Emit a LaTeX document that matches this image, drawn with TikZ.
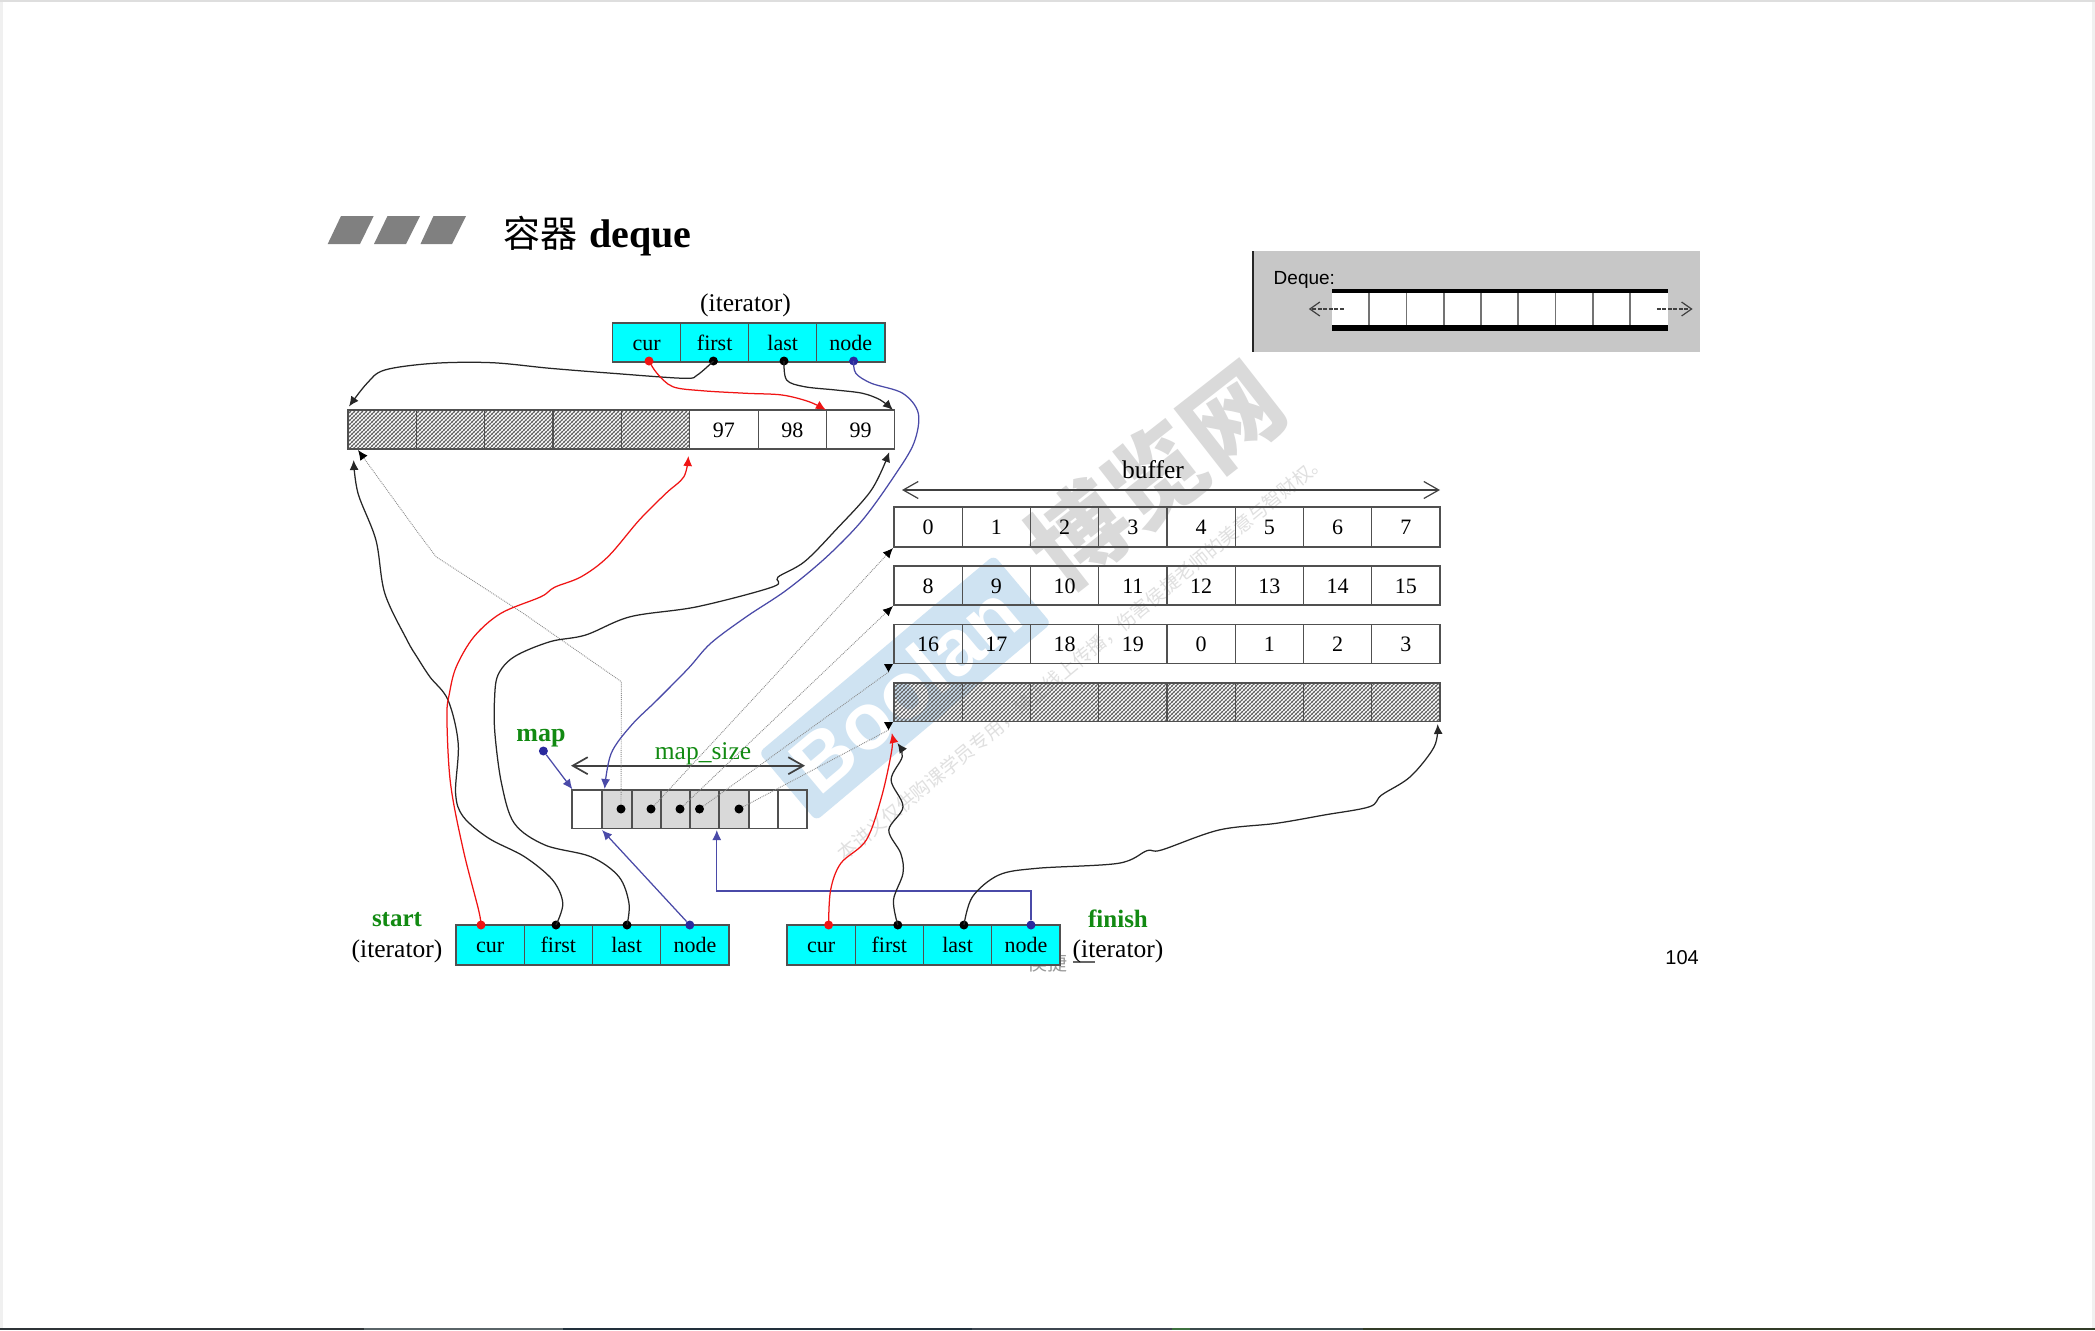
\documentclass[tikz,border=0pt]{standalone}
\usepackage{fontspec}
\setmainfont{Liberation Serif}
\newfontfamily\cjk{Noto Sans CJK SC}
\newfontfamily\hsans{Liberation Sans}
\usetikzlibrary{arrows.meta,patterns}
\definecolor{cyanbox}{HTML}{00FFFF}
\definecolor{edge}{HTML}{505050}
\definecolor{wmblue}{HTML}{CFE3F2}
\definecolor{wmgray}{HTML}{DADADA}
\definecolor{lblue}{HTML}{4A4AA8}
\definecolor{dblue}{HTML}{2A2A9E}
\definecolor{lred}{HTML}{F01414}
\definecolor{lgreen}{HTML}{128A12}
\definecolor{hatchc}{HTML}{606060}
\definecolor{ss1}{HTML}{2F3438}
\definecolor{ss2}{HTML}{5A6468}
\definecolor{ss3}{HTML}{22303C}
\definecolor{ss4}{HTML}{3E4650}
\definecolor{ss5}{HTML}{3D7040}
\definecolor{ss6}{HTML}{3B4A4C}
\definecolor{ss7}{HTML}{333C28}
\pgfdeclarepatternformonly{weave}{\pgfqpoint{-1pt}{-1pt}}{\pgfqpoint{5pt}{5pt}}{\pgfqpoint{4pt}{4pt}}{%
  \pgfsetlinewidth{1pt}%
  \pgfpathmoveto{\pgfqpoint{-1pt}{-1pt}}\pgfpathlineto{\pgfqpoint{5pt}{5pt}}\pgfusepath{stroke}%
  \pgfsetlinewidth{0.3pt}%
  \pgfpathmoveto{\pgfqpoint{0pt}{4pt}}\pgfpathlineto{\pgfqpoint{4pt}{0pt}}\pgfusepath{stroke}%
}
\newcommand{\fs}[1]{\fontsize{#1}{#1}\selectfont}
\tikzset{
  cellbox/.style n args={2}{draw=edge,line width=1.2pt,minimum width=#1,minimum height=#2,anchor=north west,inner sep=0pt,outer sep=0pt,text height=15pt,text depth=0pt,font=\fs{22}},
  hatched/.style={pattern=weave,pattern color=hatchc},
  iterc/.style={fill=cyanbox},
  lab/.style={inner sep=0pt,font=\fs{25.5}},
  glab/.style={inner sep=0pt,text=lgreen,font=\bfseries\fs{25}},
  ptr/.style={circle,inner sep=0pt,minimum size=9pt,fill=#1},
  curve/.style={line width=1.25pt,-{Latex[length=10pt,width=9pt]}},
  bcurve/.style={curve,black!85},
  rcurve/.style={curve,lred},
  lcurve/.style={curve,lblue},
  ghost/.style={line width=.9pt,gray!90,densely dotted,-{Latex[length=10pt,width=9pt,color=black]}},
  ghostn/.style={line width=.9pt,gray!90,densely dotted},
  barb/.style={line width=1.2pt,draw=black!75,{Straight Barb[length=15pt,width=17pt]}-{Straight Barb[length=15pt,width=17pt]}},
  wobble/.style={smooth,tension=.55}
}
\begin{document}
\begin{tikzpicture}[x=1pt,y=-1pt]
\useasboundingbox (0,0) rectangle (2095,1330);
% page
\fill[white] (0,0) rectangle (2095,1330);
\fill[black!13] (0,0) rectangle (2095,2);
\fill[black!6] (0,2) rectangle (3,1328);
\fill[black!6] (2092,2) rectangle (2095,1328);
\foreach \a/\b/\c in {0/364/ss1,364/563/ss2,563/972/ss3,972/1172/ss4,1172/1190/ss5,1190/1363/ss6,1363/2095/ss7}
  \fill[\c] (\a,1328) rectangle (\b,1330);
% watermark
\node[rotate=40,fill=wmblue,rounded corners=6pt,minimum width=307pt,minimum height=89pt,inner sep=0pt,text=white,font=\hsans\bfseries\fs{80}] (wmbox) at (905,688) {Boolan};
\node[rotate=38,inner sep=0pt,text=wmgray,font=\cjk\bfseries\fs{97}] (wmname) at (1155,475) {博览网};
\node[rotate=39.5,inner sep=0pt,text=wmgray!85,font=\cjk\fs{19}] (wmnote) at (1082,657) {本讲义仅供购课学员专用，禁止线上传播，伤害侯捷老师的美意与智财权。};
% title
\fill[black!50] (327.7,244) -- (341,216) -- (373.7,216) -- (360,244) -- cycle;
\fill[black!50] (374,244) -- (387.5,216) -- (420,216) -- (406,244) -- cycle;
\fill[black!50] (420.5,244) -- (433.5,216) -- (466,216) -- (452,244) -- cycle;
\node[anchor=west,inner sep=0pt] (title) at (503,236) {{\cjk\fs{37}容器}\hspace{12pt}{\bfseries\fs{40}deque}};
% inset
\fill[black!22] (1253,251) rectangle (1700,352);
\draw[line width=1.2pt,black!85] (1253,251) -- (1253,352);
\fill[white] (1332,291) rectangle (1668,327);
\foreach \x in {1369,1406.4,1444,1481,1518,1555.4,1593,1630}
  \draw[line width=1.5pt,black!55] (\x,291) -- (\x,327);
\fill[black] (1332,288.7) rectangle (1668,293.3);
\fill[black] (1332,325.3) rectangle (1668,331);
\node[anchor=west,inner sep=0pt,font=\hsans\fs{19}] (dqtext) at (1273.5,279.5) {Deque:};
\coordinate (dqLa) at (1343.6,309); \coordinate (dqLb) at (1308.8,309);
\coordinate (dqRa) at (1656.8,309); \coordinate (dqRb) at (1692.6,309);
\draw[line width=1.2pt,black!75,dash pattern=on 4pt off 1.5pt,-{Straight Barb[length=10pt,width=14pt]}] (dqLa) -- (dqLb);
\draw[line width=1.2pt,black!75,dash pattern=on 4pt off 1.5pt,-{Straight Barb[length=10pt,width=14pt]}] (dqRa) -- (dqRb);
\node[anchor=east,inner sep=0pt,font=\hsans\fs{20}] (pageno) at (1699,958) {104};
% faded author mark
\node[inner sep=0pt,text=black!40,font=\cjk\fs{20}] (author) at (1047,963) {侯捷};
\draw[line width=1.2pt,black!60] (1073,962) -- (1095,962);
% top iterator
\foreach \i/\t in {0/cur,1/first,2/last,3/node}
  \node[cellbox={68.1pt}{39pt},iterc] (t\t) at (612.5+68.1*\i,323) {\t};
\node[lab] (ittop) at (745.5,305) {(iterator)};
% buffer with 97 98 99
\foreach \i in {0,...,4}
  \node[cellbox={68.35pt}{39pt},hatched] (b\i) at (348+68.35*\i,410) {};
\foreach \i/\t in {5/97,6/98,7/99}
  \node[cellbox={68.35pt}{39pt}] (b\i) at (348+68.35*\i,410) {\t};
% buffer rows
\foreach \i/\t in {0/0,1/1,2/2,3/3,4/4,5/5,6/6,7/7}
  \node[cellbox={68.25pt}{40pt}] (ra\i) at (894+68.25*\i,507) {\t};
\foreach \i/\t in {0/8,1/9,2/10,3/11,4/12,5/13,6/14,7/15}
  \node[cellbox={68.25pt}{39pt}] (rb\i) at (894+68.25*\i,566) {\t};
\foreach \i/\t in {0/16,1/17,2/18,3/19,4/0,5/1,6/2,7/3}
  \node[cellbox={68.25pt}{39pt}] (rc\i) at (894+68.25*\i,624.5) {\t};
\foreach \i in {0,...,7}
  \node[cellbox={68.25pt}{38.5pt},hatched] (rd\i) at (894+68.25*\i,683) {};
\node[lab] (buflab) at (1153,470) {buffer};
\coordinate (bufL) at (902,490); \coordinate (bufR) at (1440,490);
\draw[barb] (bufL) -- (bufR);
% map
\node[cellbox={30pt}{38.7pt}] (m0) at (572,790) {};
\foreach \i/\a/\w in {1/602/30,2/632/29,3/661/29,4/690/29,5/719/30}
  \node[cellbox={\w pt}{38.7pt},fill=black!15] (m\i) at (\a,790) {};
\node[cellbox={29pt}{38.7pt}] (m6) at (749,790) {};
\node[cellbox={29pt}{38.7pt}] (m7) at (778,790) {};
\node[glab,font=\bfseries\fs{26}] (maplab) at (541,738) {map};
\node[lab,text=lgreen] (msize) at (703,754) {map\_size};
\coordinate (msL) at (571,765.7); \coordinate (msR) at (805,765.7);
\draw[barb,line width=1.7pt] (msL) -- (msR);
% start iterator
\foreach \i/\t in {0/cur,1/first,2/last,3/node}
  \node[cellbox={68.25pt}{40pt},iterc] (s\t) at (456+68.25*\i,925) {\t};
\node[glab] (startlab) at (397,920) {start};
\node[lab] (itstart) at (397,951) {(iterator)};
% finish iterator
\foreach \i/\t in {0/cur,1/first,2/last,3/node}
  \node[cellbox={68.25pt}{40pt},iterc] (f\t) at (787+68.25*\i,925) {\t};
\node[glab] (finlab) at (1118,919) {finish};
\node[lab] (itfin) at (1118,951) {(iterator)};
% pointer dots
\node[ptr=lred] (dtc) at (649,361) {};
\node[ptr=black] (dtf) at (713.4,361) {};
\node[ptr=black] (dtl) at (784,361) {};
\node[ptr=dblue] (dtn) at (853.6,361) {};
\node[ptr=dblue] (dmap) at (543.4,751) {};
\node[ptr=lred] (dsc) at (481,925) {};
\node[ptr=black] (dsf) at (556,925) {};
\node[ptr=black] (dsl) at (627,925) {};
\node[ptr=dblue] (dsn) at (689.8,925) {};
\node[ptr=lred] (dfc) at (828.6,925) {};
\node[ptr=black] (dff) at (897.8,925) {};
\node[ptr=black] (dfl) at (963.9,925) {};
\node[ptr=dblue] (dfn) at (1031,925) {};
\node[ptr=black] (dm1) at (621,809) {};
\node[ptr=black] (dm2) at (651,809) {};
\node[ptr=black] (dm3) at (680,809) {};
\node[ptr=black] (dm4) at (699.5,809) {};
\node[ptr=black] (dm5) at (739,809) {};
% arrow ends
\coordinate (eA) at (349,406.5);
\coordinate (eB) at (825.9,410);
\coordinate (eC) at (892.9,410);
\coordinate (eD) at (604.6,789);
\coordinate (eE) at (353.6,460);
\coordinate (eF) at (688.4,456);
\coordinate (eG) at (889.3,452);
\coordinate (eH) at (602,830);
\coordinate (eI) at (572.4,789.3);
\coordinate (eJ) at (716.8,830);
\coordinate (eK) at (891.8,733);
\coordinate (eL) at (897.4,743);
\coordinate (eM) at (1437.6,724);
\coordinate (eN) at (358,450);
\coordinate (eRa) at (893,548);
\coordinate (eRb) at (893,606);
\coordinate (eRc) at (888.5,672);
\coordinate (eRd) at (888.5,730);
% ghost lines
\draw[ghost] (dm1) -- (621.4,681.7) -- (523.2,613.3) -- (436,556.7) -- (416,530) -- (eN);
\draw[ghost] (dm2) -- (eRa);
\draw[ghost] (dm3) -- (eRb);
\draw[ghostn] (dm4) -- (eRc);
\draw[ghostn] (dm5) -- (eRd);
\fill[black] (884,664) -- (893,664) -- (888.5,672) -- cycle;
\fill[black] (884,722) -- (893,722) -- (888.5,730) -- cycle;
% top connectors
\draw[bcurve] plot[wobble] coordinates {(dtf) (697.3,375) (683.9,378.3) (612.5,373.3) (550,368.3) (492,362.7) (433.9,363.3) (384.8,370) (367,383.3) (eA)};
\draw[rcurve] plot[wobble] coordinates {(dtc) (657,373.3) (672.8,386.7) (701.8,390.7) (746.4,393.3) (782,395) (809,401.7) (eB)};
\draw[bcurve] plot[wobble] coordinates {(dtl) (786.6,380) (804.5,386.7) (835.7,390) (862.5,393.3) (880.4,400) (eC)};
\draw[lcurve] plot[wobble] coordinates {(dtn) (855.8,373.3) (871.4,383.3) (902.7,393.3) (918.3,413.3) (913.8,443.3) (893.8,476.7) (862.5,520) (826.8,556.7) (786.6,590) (746.4,616.7) (710.7,643.3) (688.4,668.3) (657.1,700) (631.6,725) (611.2,753.3) (eD)};
% start connectors
\draw[bcurve] plot[wobble] coordinates {(dsf) (562.8,903.3) (552.6,880) (524.5,856.7) (488.8,838.3) (463.3,816.7) (455.6,793.3) (458.2,743.3) (448,700) (430,677) (417,657) (407,640) (384.8,593.3) (375.9,540) (358,493.3) (eE)};
\draw[rcurve] plot[wobble] coordinates {(dsc) (478.6,910) (463.3,850) (450.5,783.3) (446.9,716.7) (449.5,693) (456.3,666.7) (474,636.7) (500.9,613.3) (541,596.7) (554.5,587.3) (581.3,576.7) (608,556.7) (639.3,520) (666,493.3) (683.9,476.7) (eF)};
\draw[bcurve] plot[wobble] coordinates {(dsl) (629,903.3) (618.9,876.7) (590.8,856.7) (544.9,845) (514.3,823.3) (501.5,783.3) (494.9,733.3) (494.5,700) (498,675) (514.3,656.7) (550,641.7) (585.7,635) (630.4,616.7) (697.3,606.7) (773.2,586.7) (778,577) (804.5,561.7) (835.7,530) (871.4,490) (eG)};
\draw[lcurve] (dsn) -- (eH);
\draw[lcurve] (dmap) -- (eI);
% finish connectors
\draw[lcurve] (dfn) |- (716.8,891) -- (eJ);
\draw[rcurve] plot[wobble] coordinates {(dfc) (830.6,890) (840.8,863.3) (866.3,840) (881.6,796.7) (891.8,750) (eK)};
\draw[bcurve] plot[wobble] coordinates {(dff) (893.5,900) (903,873.3) (900.7,853.3) (888.8,830) (903,806.7) (891.1,780) (902.2,756.7) (eL)};
\draw[bcurve] plot[wobble] coordinates {(dfl) (972.5,896.7) (998.8,875) (1037,868.3) (1118.4,863.3) (1147,850.7) (1161.5,850) (1218.9,830) (1276.3,823.3) (1324.2,815) (1369.6,806.7) (1381.6,795) (1410.3,776.7) (1434.2,746.7) (eM)};
\end{tikzpicture}
\end{document}
